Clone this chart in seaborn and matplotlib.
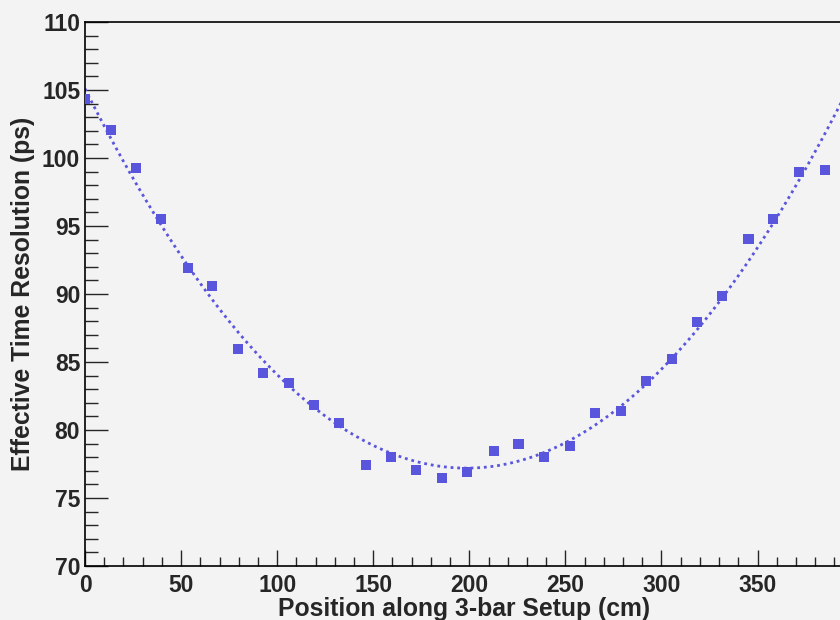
import matplotlib
matplotlib.use('Agg')
import matplotlib.pyplot as plt
import seaborn as sns
import numpy as np
import pandas as pd
from matplotlib.ticker import MultipleLocator

# positions along the bar (cm) and measured resolution (ps)
position = [0.0, 13.4, 26.5, 39.6, 53.4, 66.1, 79.8, 92.8, 106.0, 119.4,
            132.4, 146.3, 159.3, 172.1, 185.8, 199.0, 212.6, 225.6, 239.1, 252.3,
            265.3, 278.7, 291.9, 305.7, 318.6, 331.6, 345.3, 358.3, 371.8, 384.9]
resolution = [104.34, 102.08, 99.29, 95.51, 91.93, 90.61, 85.98, 84.17, 83.46, 81.86,
              80.54, 77.43, 78.04, 77.06, 76.45, 76.91, 78.48, 78.99, 78.04, 78.85,
              81.27, 81.40, 83.63, 85.20, 87.92, 89.83, 94.04, 95.51, 98.95, 99.09]

df = pd.DataFrame({'pos': position, 'res': resolution})

bg = '#f3f3f3'
col = '#5a55dd'

sns.set_style('ticks')
plt.rcParams['font.family'] = ['Liberation Sans', 'DejaVu Sans']
plt.rcParams['font.weight'] = 'bold'

fig = plt.figure(figsize=(8.4, 6.2), dpi=100, facecolor=bg)
ax = fig.add_axes([85 / 840, 54 / 620, 759 / 840, 544 / 620])
ax.set_facecolor(bg)

# set the range first so the fit line spans the whole axis
ax.set_xlim(0, 395)
ax.set_ylim(70, 110)

# quadratic fit (dotted) + data points
sns.regplot(data=df, x='pos', y='res', order=2, ci=None, scatter=False,
            truncate=False, ax=ax,
            line_kws=dict(color=col, lw=2.0, linestyle=(0, (1, 1.4))))
sns.scatterplot(data=df, x='pos', y='res', marker='s', s=52, color=col,
                edgecolor='none', ax=ax, zorder=3)

ax.set_xlim(0, 395)
ax.set_ylim(70, 110)

ax.xaxis.set_major_locator(MultipleLocator(50))
ax.xaxis.set_minor_locator(MultipleLocator(10))
ax.yaxis.set_major_locator(MultipleLocator(5))
ax.yaxis.set_minor_locator(MultipleLocator(1))

ax.tick_params(axis='x', which='major', direction='in', length=11.5, width=1,
               pad=6, labelsize=16.5)
ax.tick_params(axis='x', which='minor', direction='in', length=6.5, width=1)
ax.tick_params(axis='y', which='major', direction='in', length=16.5, width=1,
               pad=3.5, labelsize=16.5)
ax.tick_params(axis='y', which='minor', direction='in', length=9.5, width=1)
for lab in ax.get_xticklabels() + ax.get_yticklabels():
    lab.set_fontweight('bold')

for s in ax.spines.values():
    s.set_linewidth(1.2)
    s.set_color('black')

ax.set_xlabel('Position along 3-bar Setup (cm)', fontsize=17.8, fontweight='bold',
              labelpad=0)
ax.set_ylabel('Effective Time Resolution (ps)', fontsize=17.8, fontweight='bold',
              labelpad=5)

fig.savefig('out.png', dpi=100, facecolor=bg)
